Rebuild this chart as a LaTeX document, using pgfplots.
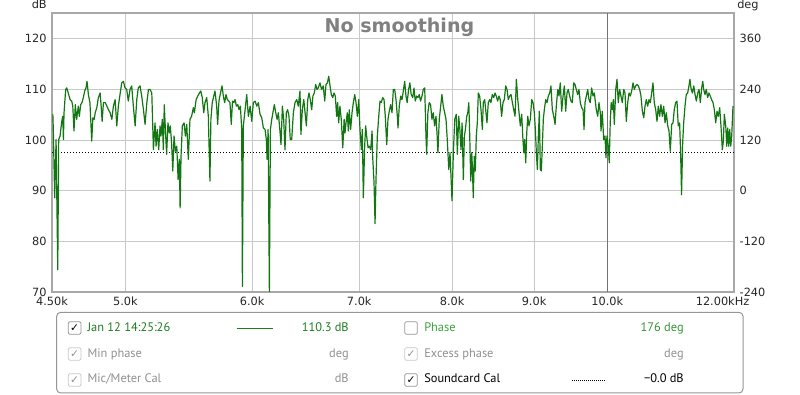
\documentclass[border=0pt]{standalone}
\usepackage{fontspec}
\setmainfont{DejaVu Sans}
\newfontfamily\legfont{PT Sans}
\newfontfamily\symfont{DejaVu Sans}
\usepackage{pgfplots}
\pgfplotsset{compat=1.18}
\definecolor{curve}{RGB}{18,118,18}
\definecolor{gridc}{RGB}{200,200,200}
\definecolor{framec}{RGB}{168,168,168}
\definecolor{titlec}{RGB}{128,128,128}
\definecolor{lgreen}{RGB}{30,125,30}
\definecolor{pgreen}{RGB}{60,165,60}
\definecolor{dimtext}{RGB}{145,145,145}
\definecolor{boxc}{RGB}{150,150,150}
\definecolor{dimbox}{RGB}{200,200,200}
\begin{document}
\begin{tikzpicture}[x=1pt,y=1pt]
\begin{axis}[
  at={(39pt,77.25pt)}, anchor=south west,
  scale only axis, width=511.5pt, height=209.25pt,
  xmode=log, xmin=4500, xmax=12000, ymin=70, ymax=125.1,
  xtick={4500,5000,6000,7000,8000,9000,10000,12000},
  xticklabels={4.50k,5.0k,6.0k,7.0k,8.0k,9.0k,10.0k,{}},
  minor xtick={},
  ytick={70,80,90,100,110,120},
  major tick length=0pt,
  grid=major, major grid style={gridc, line width=0.75pt},
  axis line style={framec, line width=1.5pt},
  tick label style={font=\fontsize{8.5}{10}\selectfont, text=black!85, inner sep=0pt},
  xticklabel style={yshift=-3.5pt},
  yticklabel style={xshift=-4pt},
  /pgf/number format/assume math mode=true,
]
\addplot[color=black!55, line width=0.75pt, forget plot] coordinates {(10000,70) (10000,125.1)};
\addplot[black, line width=0.75pt, dash pattern=on 0.75pt off 1.5pt] coordinates {(4500,97.5) (12000,97.5)};
\addplot[curve, line width=0.9pt, line join=round] coordinates {
(4505,105.1)(4508,102.1)(4517,88.6)(4526,100.1)(4537,74.4)(4543,100.1)(4552,100.8)(4563,103.7)(4570,104.7)(4574,100.1)(4578,105.4)(4589,110.0)(4596,110.3)(4606,109.3)(4618,108.0)(4629,107.7)(4636,106.7)(4644,101.8)(4653,107.0)(4662,104.1)(4673,106.7)(4680,104.7)(4689,107.0)(4698,107.4)(4707,108.4)(4716,109.7)(4725,110.3)(4732,111.6)(4741,109.0)(4752,107.4)(4764,99.8)(4772,104.4)(4781,104.1)(4788,105.4)(4799,106.4)(4810,108.4)(4822,109.3)(4829,106.7)(4836,103.7)(4845,107.4)(4857,107.4)(4869,106.7)(4880,106.0)(4892,105.4)(4904,104.1)(4915,106.7)(4927,108.0)(4939,102.8)(4950,106.7)(4962,109.0)(4974,111.3)(4986,111.6)(4998,110.3)(5010,110.0)(5021,107.7)(5034,110.0)(5046,110.7)(5058,106.7)(5071,102.8)(5083,108.0)(5094,110.3)(5107,110.7)(5119,108.7)(5132,106.0)(5144,103.1)(5157,107.4)(5169,110.0)(5181,110.0)(5194,109.3)(5206,98.1)(5218,103.4)(5226,98.8)(5235,102.1)(5246,98.1)(5256,102.8)(5263,100.8)(5273,104.1)(5281,98.1)(5288,107.0)(5299,100.8)(5306,97.2)(5316,103.4)(5326,101.4)(5334,102.8)(5344,99.5)(5353,93.9)(5363,100.8)(5373,97.8)(5384,98.8)(5394,92.2)(5404,96.2)(5410,86.6)(5417,96.8)(5427,102.8)(5441,103.4)(5451,100.8)(5462,103.1)
(5474,96.2)(5487,104.1)(5500,104.7)(5514,106.4)(5522,105.4)(5536,108.0)(5549,108.7)(5562,109.3)(5573,109.7)(5585,108.4)(5597,105.4)(5607,107.4)(5621,108.4)(5634,104.7)(5647,91.9)(5655,104.1)(5666,107.4)(5678,108.7)(5688,109.7)(5702,106.7)(5710,103.1)(5721,107.7)(5731,109.0)(5746,110.7)(5757,108.7)(5768,107.4)(5779,109.0)(5790,108.0)(5802,107.7)(5812,107.4)(5823,103.1)(5833,107.7)(5844,107.4)(5855,108.0)(5866,106.7)(5878,107.0)(5889,106.0)(5900,106.7)(5911,102.1)(5917,71.1)(5925,102.8)(5940,106.0)(5954,109.0)(5968,104.7)(5983,106.7)(5997,103.7)(6011,107.4)(6026,107.7)(6041,106.7)(6054,107.4)(6069,105.1)(6084,104.4)(6098,102.4)(6113,102.1)(6124,100.1)(6131,96.2)(6140,102.1)(6151,70.0)(6160,102.1)(6172,104.1)(6187,106.0)(6195,107.0)(6208,105.4)(6220,104.1)(6231,105.4)(6243,102.4)(6255,99.1)(6267,106.7)(6279,104.1)(6291,98.1)(6303,105.4)(6315,106.0)(6327,104.7)(6339,100.1)(6352,100.1)(6367,105.4)(6382,107.4)(6398,108.0)(6412,106.7)(6428,109.7)(6437,101.1)(6450,106.0)(6463,108.0)(6475,105.4)(6487,102.8)(6500,108.0)(6512,109.3)(6524,108.0)(6537,106.0)(6549,108.7)(6562,109.3)(6575,111.0)(6587,110.0)(6599,110.3)(6615,111.3)(6631,110.0)(6647,110.7)
(6661,107.7)(6673,111.0)(6686,111.3)(6699,112.6)(6712,110.7)(6724,109.0)(6738,108.4)(6750,109.3)(6763,108.7)(6776,104.7)(6786,107.4)(6796,103.4)(6808,106.7)(6821,104.1)(6836,98.5)(6849,104.1)(6858,101.4)(6868,103.4)(6881,105.4)(6891,101.8)(6900,106.0)(6914,102.1)(6928,105.4)(6941,107.4)(6955,109.0)(6968,107.4)(6981,104.7)(6995,108.0)(7008,101.8)(7021,98.1)(7031,102.1)(7041,88.6)(7055,98.8)(7065,102.8)(7075,100.8)(7089,98.5)(7102,98.8)(7116,98.1)(7130,101.8)(7137,96.8)(7150,91.6)(7161,83.5)(7171,92.2)(7184,100.8)(7199,104.7)(7212,107.7)(7225,107.4)(7240,108.4)(7254,108.0)(7267,104.7)(7282,99.1)(7295,104.1)(7309,105.7)(7323,107.0)(7338,105.4)(7352,110.0)(7366,110.0)(7380,108.0)(7394,104.7)(7401,102.4)(7415,106.7)(7430,108.7)(7444,108.0)(7458,109.7)(7473,111.6)(7487,108.7)(7500,107.4)(7515,110.0)(7529,111.3)(7543,109.0)(7560,108.4)(7574,110.3)(7588,107.7)(7603,108.7)(7617,108.4)(7631,109.0)(7646,107.7)(7661,108.7)(7675,110.0)(7691,110.3)(7705,100.8)(7713,97.2)(7727,105.4)(7741,107.4)(7757,107.0)(7772,104.1)(7787,105.4)(7802,102.8)(7817,104.7)(7831,100.8)(7839,97.5)(7854,104.1)(7870,106.7)(7885,109.0)(7900,106.7)(7916,105.4)(7931,104.1)(7946,100.1)(7962,94.2)(7976,97.5)(7988,92.9)(7999,88.0)(8014,97.5)(8030,104.1)
(8048,105.1)(8060,97.2)(8076,104.7)(8088,102.4)(8103,98.1)(8115,103.4)(8130,92.2)(8142,100.8)(8154,102.1)(8170,104.7)(8182,105.4)(8194,107.4)(8205,100.8)(8217,91.9)(8229,97.5)(8236,94.8)(8247,88.6)(8259,96.8)(8271,93.9)(8283,100.8)(8295,103.4)(8307,109.3)(8323,108.7)(8339,106.0)(8355,102.1)(8367,107.4)(8383,108.0)(8399,105.4)(8411,103.4)(8427,107.4)(8444,108.0)(8459,107.4)(8476,109.0)(8493,108.4)(8509,109.3)(8524,108.7)(8541,107.7)(8557,108.7)(8573,108.0)(8590,104.7)(8607,107.4)(8623,108.0)(8641,110.7)(8657,110.0)(8673,108.0)(8690,108.7)(8707,109.0)(8724,107.4)(8741,106.0)(8758,104.7)(8774,112.0)(8792,108.0)(8808,105.4)(8824,102.8)(8842,105.1)(8855,100.8)(8868,97.5)(8880,100.1)(8893,95.5)(8906,101.4)(8919,104.7)(8935,102.8)(8952,104.1)(8970,108.0)(8987,107.4)(9004,105.4)(9017,102.1)(9030,97.5)(9043,94.2)(9056,100.8)(9069,105.7)(9082,94.2)(9095,93.9)(9108,98.8)(9121,104.1)(9134,106.0)(9153,108.0)(9170,107.4)(9187,108.7)(9205,109.3)(9222,110.7)(9240,106.0)(9259,104.7)(9276,103.1)(9293,106.7)(9312,110.0)(9329,108.7)(9346,111.3)(9365,105.7)(9383,108.7)(9401,110.7)(9419,105.7)(9437,109.3)(9454,110.0)(9473,108.7)(9491,107.7)(9509,107.4)(9528,111.3)(9546,111.0)(9564,110.0)(9583,109.0)(9601,110.0)(9619,107.4)(9638,106.4)(9657,106.0)(9671,102.1)(9684,107.4)(9703,108.7)(9722,110.0)(9740,108.0)(9758,107.4)(9777,110.3)(9797,108.7)(9815,109.3)
(9843,106.0)(9863,104.7)(9881,107.4)(9900,105.4)(9910,101.8)(9928,105.7)(9948,100.1)(9967,100.8)(9981,96.5)(9995,100.8)(10014,98.8)(10028,95.5)(10042,103.4)(10056,107.4)(10072,106.0)(10087,108.0)(10101,103.1)(10122,110.0)(10140,112.0)(10159,107.4)(10179,110.0)(10198,108.7)(10218,107.4)(10239,110.0)(10258,109.3)(10277,103.7)(10298,107.4)(10317,109.3)(10336,108.7)(10357,109.7)(10377,111.3)(10396,110.0)(10417,110.7)(10436,111.0)(10456,110.7)(10477,110.0)(10496,108.7)(10517,105.7)(10538,104.4)(10557,106.7)(10577,108.0)(10598,106.7)(10618,108.0)(10638,107.4)(10659,109.3)(10679,111.3)(10699,107.4)(10721,106.0)(10741,103.7)(10761,106.7)(10782,104.7)(10802,107.0)(10824,104.7)(10845,106.7)(10866,103.4)(10886,105.4)(10908,102.8)(10928,101.8)(10948,97.8)(10970,103.1)(10991,103.4)(11011,106.0)(11033,107.4)(11054,107.7)(11074,102.8)(11096,103.4)(11112,97.5)(11127,89.2)(11145,99.5)(11161,103.4)(11182,106.7)(11203,109.0)(11225,109.3)(11246,110.7)(11262,112.0)(11278,110.3)(11301,109.3)(11324,110.7)(11345,109.0)(11366,107.7)(11389,109.3)(11410,110.0)(11431,107.4)(11454,110.3)(11471,111.6)(11487,110.0)(11509,109.0)(11530,110.0)(11553,108.4)(11574,109.3)(11596,108.7)(11618,108.0)(11642,107.4)(11664,106.0)(11687,103.4)(11709,105.7)(11731,104.7)(11754,106.4)(11776,102.8)(11799,98.1)(11816,99.8)(11833,105.1)(11857,102.8)(11874,98.8)(11891,102.4)(11908,98.8)(11925,102.1)(11942,98.8)(11959,100.8)(11981,106.7)
};
\end{axis}
\begin{axis}[
  at={(39pt,77.25pt)}, anchor=south west,
  scale only axis, width=511.5pt, height=209.25pt,
  xmode=log, xmin=4500, xmax=12000, ymin=-240, ymax=421.2,
  axis y line*=right, axis x line=none,
  ytick={-240,-120,0,120,240,360},
  major tick length=0pt,
  axis line style={draw=none},
  tick label style={font=\fontsize{8.5}{10}\selectfont, text=black!85, inner sep=0pt},
  yticklabel style={xshift=4pt},
  /pgf/number format/assume math mode=true,
]
\addplot[draw=none, forget plot] coordinates {(5000,0)};
\end{axis}
% axis titles
\node[anchor=base, font=\bfseries\fontsize{14.3}{17}\selectfont, text=titlec] at (299.6,271.7) {No smoothing};
\node[anchor=base east, inner sep=0pt, font=\fontsize{8.5}{10}\selectfont, text=black!85] at (35.25,289.5) {dB};
\node[anchor=base west, inner sep=0pt, font=\fontsize{8.5}{10}\selectfont, text=black!85] at (552.75,289.5) {deg};
\node[anchor=north, inner sep=0pt, font=\fontsize{8.5}{10}\selectfont, text=black!85] at (541.9,73.75) {12.00kHz};
% legend
\draw[boxc, rounded corners=3pt, line width=0.75pt, fill=white] (42.5,1.5) rectangle (557.25,62);
\draw[rounded corners=1.5pt, draw=boxc, line width=0.6pt] (51.25,45.5) rectangle (60.75,55);
\node[inner sep=0pt, font=\symfont\fontsize{8}{8}\selectfont, text=black] at (56,50.25) {✓};
\draw[rounded corners=1.5pt, draw=dimbox, line width=0.6pt] (51.25,26) rectangle (60.75,35.5);
\node[inner sep=0pt, font=\symfont\fontsize{8}{8}\selectfont, text=dimtext] at (56,30.75) {✓};
\draw[rounded corners=1.5pt, draw=dimbox, line width=0.6pt] (51.25,6.5) rectangle (60.75,16);
\node[inner sep=0pt, font=\symfont\fontsize{8}{8}\selectfont, text=dimtext] at (56,11.25) {✓};
\draw[rounded corners=1.5pt, draw=boxc, line width=0.6pt] (303.5,45.5) rectangle (313,55);
\draw[rounded corners=1.5pt, draw=dimbox, line width=0.6pt] (303.5,26) rectangle (313,35.5);
\node[inner sep=0pt, font=\symfont\fontsize{8}{8}\selectfont, text=dimtext] at (308.25,30.75) {✓};
\draw[rounded corners=1.5pt, draw=boxc, line width=0.6pt] (303.5,6.5) rectangle (313,16);
\node[inner sep=0pt, font=\symfont\fontsize{8}{8}\selectfont, text=black] at (308.25,11.25) {✓};
\begin{scope}[every node/.style={inner sep=0pt, font=\legfont\fontsize{9.3}{11}\selectfont}]
\node[anchor=base west, text=lgreen] at (65.5,47.6) {Jan 12 14:25:26};
\node[anchor=base east, text=lgreen] at (261.75,47.6) {110.3 dB};
\node[anchor=base west, text=pgreen] at (318,47.6) {Phase};
\node[anchor=base east, text=pgreen!90!black] at (513,47.6) {176 deg};
\node[anchor=base west, text=dimtext] at (65.5,28.1) {Min phase};
\node[anchor=base east, text=dimtext] at (261.75,28.1) {deg};
\node[anchor=base west, text=dimtext] at (318,28.1) {Excess phase};
\node[anchor=base east, text=dimtext] at (513,28.1) {deg};
\node[anchor=base west, text=dimtext] at (65.5,9.0) {Mic/Meter Cal};
\node[anchor=base east, text=dimtext] at (261.75,9.0) {dB};
\node[anchor=base west, text=black] at (318,9.0) {Soundcard Cal};
\node[anchor=base east, text=black] at (513,9.0) {−0.0 dB};
\end{scope}
\draw[lgreen, line width=0.75pt] (177.5,50) -- (205,50);
\draw[black, line width=0.6pt, dash pattern=on 0.75pt off 0.75pt] (429,11.25) -- (454.5,11.25);
\pgfresetboundingbox
\useasboundingbox (0,0) rectangle (600,296.25);
\end{tikzpicture}
\end{document}
